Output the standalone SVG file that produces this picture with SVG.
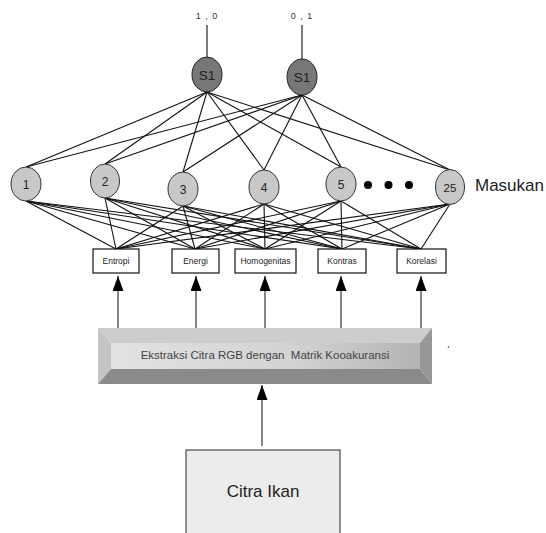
<svg xmlns="http://www.w3.org/2000/svg" width="546" height="533" viewBox="0 0 546 533">
  <style>
    text { font-family: "Liberation Sans", Arial, sans-serif; fill: #222; }
    .out { fill: #777; stroke: #222; stroke-width: 1; }
    .in { fill: #c8c8c8; stroke: #333; stroke-width: 1; }
    .feat { fill: #fff; stroke: #111; stroke-width: 1.2; }
    .w { stroke: #111; stroke-width: 1.1; fill: none; }
    .up { stroke: #444; stroke-width: 1.3; fill: none; marker-end: url(#head); }
    .nl { font-size: 12px; text-anchor: middle; }
    .sl { font-size: 13.5px; text-anchor: middle; }
    .fl { font-size: 8.5px; text-anchor: middle; }
  </style>
  <defs>
    <marker id="head" markerUnits="userSpaceOnUse" markerWidth="15" markerHeight="11" refX="15" refY="5.5" orient="auto">
      <path d="M0,0 L15,5.5 L0,11 z" fill="#000"/>
    </marker>
    <linearGradient id="face" x1="0" y1="0" x2="1" y2="0">
      <stop offset="0" stop-color="#e2e2e2"/>
      <stop offset="0.6" stop-color="#d2d2d2"/>
      <stop offset="1" stop-color="#b4b4b4"/>
    </linearGradient>
  </defs>

  <!-- connectors -->
  <g id="connectors">
    <!-- output layer to input layer -->
    <line class="w" x1="207" y1="92" x2="26" y2="167"/>
    <line class="w" x1="207" y1="92" x2="105" y2="164"/>
    <line class="w" x1="207" y1="92" x2="183" y2="172"/>
    <line class="w" x1="207" y1="92" x2="264" y2="170"/>
    <line class="w" x1="207" y1="92" x2="341" y2="167"/>
    <line class="w" x1="207" y1="92" x2="450" y2="170"/>
    <line class="w" x1="302" y1="95" x2="26" y2="167"/>
    <line class="w" x1="302" y1="95" x2="105" y2="164"/>
    <line class="w" x1="302" y1="95" x2="183" y2="172"/>
    <line class="w" x1="302" y1="95" x2="264" y2="170"/>
    <line class="w" x1="302" y1="95" x2="341" y2="167"/>
    <line class="w" x1="302" y1="95" x2="450" y2="170"/>
    <!-- output leads -->
    <line class="w" x1="207" y1="57" x2="207" y2="25"/>
    <line class="w" x1="302" y1="59" x2="302" y2="25"/>
    <!-- input layer to feature boxes -->
    <g class="w">
      <line x1="26" y1="201" x2="116" y2="249"/>
      <line x1="26" y1="201" x2="195" y2="249"/>
      <line x1="26" y1="201" x2="265" y2="249"/>
      <line x1="26" y1="201" x2="342" y2="249"/>
      <line x1="26" y1="201" x2="421" y2="249"/>
      <line x1="105" y1="198" x2="116" y2="249"/>
      <line x1="105" y1="198" x2="195" y2="249"/>
      <line x1="105" y1="198" x2="265" y2="249"/>
      <line x1="105" y1="198" x2="342" y2="249"/>
      <line x1="105" y1="198" x2="421" y2="249"/>
      <line x1="183" y1="206" x2="116" y2="249"/>
      <line x1="183" y1="206" x2="195" y2="249"/>
      <line x1="183" y1="206" x2="265" y2="249"/>
      <line x1="183" y1="206" x2="342" y2="249"/>
      <line x1="183" y1="206" x2="421" y2="249"/>
      <line x1="264" y1="204" x2="116" y2="249"/>
      <line x1="264" y1="204" x2="195" y2="249"/>
      <line x1="264" y1="204" x2="265" y2="249"/>
      <line x1="264" y1="204" x2="342" y2="249"/>
      <line x1="264" y1="204" x2="421" y2="249"/>
      <line x1="341" y1="201" x2="116" y2="249"/>
      <line x1="341" y1="201" x2="195" y2="249"/>
      <line x1="341" y1="201" x2="265" y2="249"/>
      <line x1="341" y1="201" x2="342" y2="249"/>
      <line x1="341" y1="201" x2="421" y2="249"/>
      <line x1="450" y1="204" x2="116" y2="249"/>
      <line x1="450" y1="204" x2="195" y2="249"/>
      <line x1="450" y1="204" x2="265" y2="249"/>
      <line x1="450" y1="204" x2="342" y2="249"/>
      <line x1="450" y1="204" x2="421" y2="249"/>
    </g>
    <!-- extraction block to features -->
    <line class="up" x1="118" y1="328" x2="118" y2="276"/>
    <line class="up" x1="196" y1="328" x2="196" y2="276"/>
    <line class="up" x1="265" y1="328" x2="265" y2="276"/>
    <line class="up" x1="341" y1="328" x2="341" y2="276"/>
    <line class="up" x1="421" y1="328" x2="421" y2="276"/>
    <!-- image to extraction block -->
    <line class="up" x1="262" y1="446" x2="262" y2="385"/>
  </g>

  <!-- output labels -->
  <text x="207" y="19" style="font-size:9px; letter-spacing:1px; fill:#333" text-anchor="middle">1 , 0</text>
  <text x="302" y="19" style="font-size:9px; letter-spacing:1px; fill:#333" text-anchor="middle">0 , 1</text>

  <!-- output nodes -->
  <g id="out1">
    <ellipse class="out" cx="207" cy="74.5" rx="15" ry="17.5"/>
    <text class="sl" x="207" y="79.5">S1</text>
  </g>
  <g id="out2">
    <ellipse class="out" cx="302" cy="77" rx="15" ry="18"/>
    <text class="sl" x="302" y="82">S1</text>
  </g>

  <!-- input nodes -->
  <g id="in1">
    <ellipse class="in" cx="26" cy="184" rx="15" ry="17"/>
    <text class="nl" x="26" y="188.5">1</text>
  </g>
  <g id="in2">
    <ellipse class="in" cx="105" cy="181" rx="14.5" ry="17"/>
    <text class="nl" x="105" y="185.5">2</text>
  </g>
  <g id="in3">
    <ellipse class="in" cx="183" cy="189" rx="15" ry="17"/>
    <text class="nl" x="183" y="193.5">3</text>
  </g>
  <g id="in4">
    <ellipse class="in" cx="264" cy="187" rx="15" ry="17"/>
    <text class="nl" x="264" y="191.5">4</text>
  </g>
  <g id="in5">
    <ellipse class="in" cx="341" cy="184" rx="15" ry="17"/>
    <text class="nl" x="341" y="188.5">5</text>
  </g>
  <g id="in25">
    <ellipse class="in" cx="450" cy="187" rx="14.5" ry="17.5"/>
    <text class="nl" x="450" y="191.5" style="font-size:11.5px">25</text>
  </g>
  <g id="ellipsis">
    <circle cx="368" cy="185" r="4" fill="#000"/>
    <circle cx="388.5" cy="185" r="4" fill="#000"/>
    <circle cx="409" cy="185" r="4" fill="#000"/>
  </g>
  <text x="475" y="191" style="font-size:17px">Masukan</text>

  <!-- feature boxes -->
  <g id="entropi">
    <rect class="feat" x="93" y="249" width="46" height="24"/>
    <text class="fl" x="116" y="264">Entropi</text>
  </g>
  <g id="energi">
    <rect class="feat" x="172" y="249" width="47" height="24"/>
    <text class="fl" x="195.5" y="264">Energi</text>
  </g>
  <g id="homogenitas">
    <rect class="feat" x="235" y="249" width="61" height="24"/>
    <text class="fl" x="265.5" y="264">Homogenitas</text>
  </g>
  <g id="kontras">
    <rect class="feat" x="318" y="249" width="48" height="24"/>
    <text class="fl" x="342" y="264">Kontras</text>
  </g>
  <g id="korelasi">
    <rect class="feat" x="397" y="249" width="49" height="24"/>
    <text class="fl" x="421.5" y="264">Korelasi</text>
  </g>

  <!-- bevelled extraction block -->
  <g id="extraction">
    <polygon points="98,328 432,328 420,343 111,343" fill="#cdcdcd"/>
    <polygon points="98,328 111,343 111,369 98,384" fill="#c4c4c4"/>
    <polygon points="98,384 111,369 420,369 432,384" fill="#8a8a8a"/>
    <polygon points="432,328 420,343 420,369 432,384" fill="#979797"/>
    <rect x="111" y="343" width="309" height="26" fill="url(#face)"/>
    <text x="265" y="359" style="font-size:11.5px; fill:#444" text-anchor="middle" xml:space="preserve">Ekstraksi Citra RGB dengan  Matrik Kooakuransi</text>
  </g>
  <circle cx="448.5" cy="347" r="0.8" fill="#333"/>

  <!-- source image -->
  <g id="citra-ikan">
    <rect x="186" y="450" width="154" height="90" fill="#ececec" stroke="#555" stroke-width="1.3"/>
    <text x="263" y="497" style="font-size:17px" text-anchor="middle">Citra Ikan</text>
  </g>
</svg>
